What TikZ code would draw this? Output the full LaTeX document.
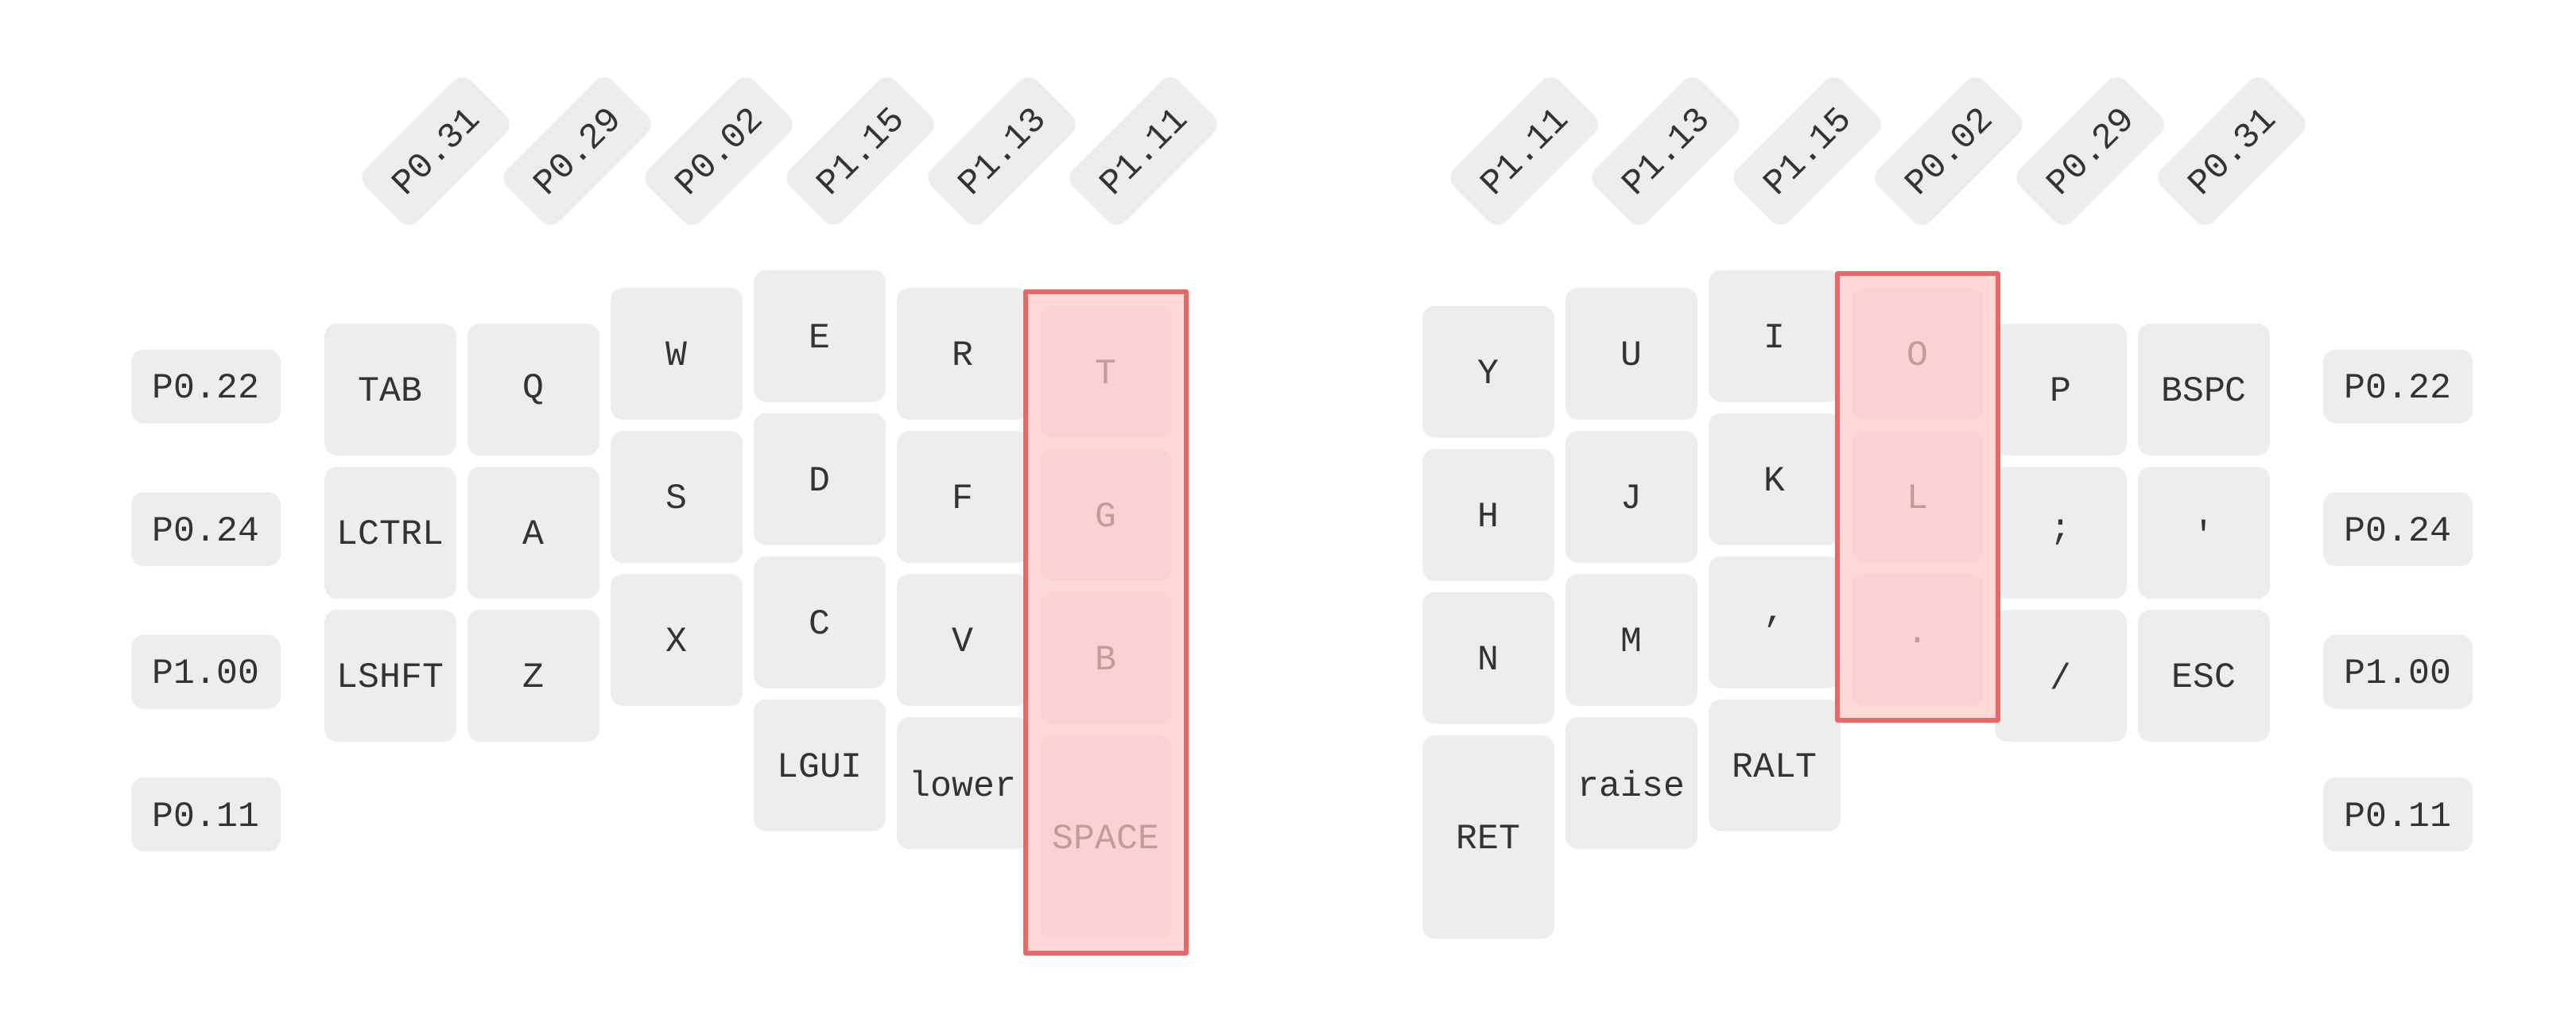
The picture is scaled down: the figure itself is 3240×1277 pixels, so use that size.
\documentclass[tikz,border=0pt]{standalone}
\usepackage{fontspec}
\usetikzlibrary{fit}
\newfontfamily\keyfont{Liberation Mono}
\definecolor{keygray}{RGB}{237,237,237}
\definecolor{keytext}{RGB}{51,51,51}
\definecolor{heldred}{RGB}{232,104,104}
\definecolor{heldpink}{RGB}{255,200,200}

\begin{document}
\begin{tikzpicture}[
	x=0.25pt,
	y=-0.25pt,
	line join=round,
	every node/.style={font=\keyfont\fontsize{11.2pt}{13pt}\selectfont, text=keytext},
	key/.style={
		shape=rectangle,
		rounded corners=4pt,
		fill=keygray,
		minimum width=41.5pt,
		minimum height=41.5pt,
		inner sep=0pt
	},
	tallkey/.style={key, minimum height=64pt},
	pin/.style={
		shape=rectangle,
		rounded corners=4pt,
		fill=keygray,
		minimum width=47pt,
		minimum height=23.25pt,
		inner sep=0pt
	},
	held/.style={
		shape=rectangle,
		draw=heldred,
		line width=1.5pt,
		fill=heldpink,
		fill opacity=0.7,
		inner sep=4.25pt
	}
	]
	\useasboundingbox (0,0) rectangle (3240,1277);
	\begin{scope}[local bounding box=lefthalf]
	\foreach \dy/\ka/\kb/\kc [count=\c, evaluate={\x=311+180*\c;}] in
	{0/TAB/LCTRL/LSHFT, 0/Q/A/Z, -45/W/S/X, -67.5/E/D/C, -45/R/F/V, -22.5/T/G/B}{
		\node [key] (l\c-1) at (\x,490+\dy) {\ka};
		\node [key] (l\c-2) at (\x,670+\dy) {\kb};
		\node [key] (l\c-3) at (\x,850+\dy) {\kc};
	}
	\node [key] (l4-4) at (1031,962.5) {LGUI};
	\node [key] (l5-4) at (1211,985) {lower};
	\node [tallkey] (l6-4) at (1391,1053) {SPACE};
	\end{scope}
	\begin{scope}[local bounding box=righthalf]
	\foreach \dy/\ka/\kb/\kc [count=\c, evaluate={\x=1692+180*\c;}] in
	{-22.5/Y/H/N, -45/U/J/M, -67.5/I/K/{,}, -45/O/L/., 0/P/{;}/{/}, 0/BSPC/'/ESC}{
		\node [key] (r\c-1) at (\x,490+\dy) {\ka};
		\node [key] (r\c-2) at (\x,670+\dy) {\kb};
		\node [key] (r\c-3) at (\x,850+\dy) {\kc};
	}
	\node [tallkey] (r1-4) at (1872,1053) {RET};
	\node [key] (r2-4) at (2052,985) {raise};
	\node [key] (r3-4) at (2232,962.5) {RALT};
	\end{scope}
	\foreach \pin [count=\i, evaluate={\y=306.5+179.5*\i;}] in {P0.22, P0.24, P1.00, P0.11}{
		\node [pin] (pinl\i) at (259,\y) {\pin};
		\node [pin] (pinr\i) at (3016,\y) {\pin};
	}
	\foreach \pin [count=\i, evaluate={\x=370+178*\i;}] in
	{P0.31, P0.29, P0.02, P1.15, P1.13, P1.11}{
		\node [pin, rotate=45] (topl\i) at (\x,190) {\pin};
	}
	\foreach \pin [count=\i, evaluate={\x=1739+178*\i;}] in
	{P1.11, P1.13, P1.15, P0.02, P0.29, P0.31}{
		\node [pin, rotate=45] (topr\i) at (\x,190) {\pin};
	}
	\node [held, fit=(l6-1)(l6-4)] (leftheld) {};
	\node [held, fit=(r4-1)(r4-3)] (rightheld) {};
\end{tikzpicture}
\end{document}
